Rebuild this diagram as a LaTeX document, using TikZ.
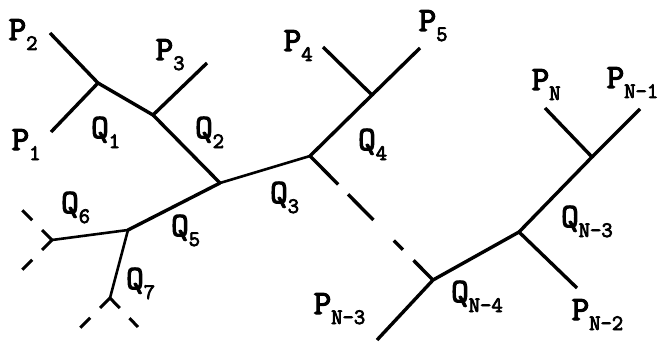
\documentclass[tikz,border=0pt]{standalone}
\usepackage{fontspec}
\setmonofont[AutoFakeBold=3.5]{Latin Modern Mono}
\newcommand{\lbl}[2]{\ttfamily\bfseries\fontsize{34}{34}\selectfont #1\raisebox{-10pt}{\fontsize{22}{22}\selectfont #2}}

\begin{document}
\begin{tikzpicture}[x=1pt,y=-1pt,
  edge/.style={line width=3.4pt},
  thinedge/.style={line width=2.6pt},
  stub/.style={line width=3pt,dash pattern=on 14pt off 14pt},
  lab/.style={anchor=base west,inner sep=0pt}]
\useasboundingbox (0,0) rectangle (660,342);
% junctions
\coordinate (A) at (98,83);
\coordinate (B) at (153,115);
\coordinate (C) at (220,183);
\coordinate (D) at (310,156);
\coordinate (E) at (372,95);
\coordinate (F) at (433,280);
\coordinate (G) at (519,232);
\coordinate (H) at (592,157);
\coordinate (I) at (128,230);
\coordinate (J) at (52,240);
\coordinate (K) at (110,298);
% leaves
\coordinate (p2) at (50,33);
\coordinate (p1) at (51,132);
\coordinate (p3) at (207,63);
\coordinate (p4) at (323,47);
\coordinate (p5) at (420,48);
\coordinate (pn3) at (377,340);
\coordinate (pn2) at (577,288);
\coordinate (pn) at (545,108);
\coordinate (pn1) at (640,109);
\coordinate (j1) at (22,210);
\coordinate (j2) at (22,270);
\coordinate (k1) at (80,328);
\coordinate (k2) at (138,327);
% tree
\draw[edge] (p2) -- (A) -- (p1);
\draw[edge] (A) -- (B) -- (p3);
\draw[edge] (B) -- (C);
\draw[thinedge] (C) -- (D);
\draw[edge] (D) -- (E) -- (p4);
\draw[edge] (E) -- (p5);
\draw[edge,dash pattern=on 40pt off 14pt on 36pt off 29pt on 13pt off 15pt on 30pt] (D) -- (F);
\draw[edge] (pn3) -- (F) -- (G) -- (pn2);
\draw[edge] (G) -- (H) -- (pn);
\draw[edge] (H) -- (pn1);
\draw[edge] (C) -- (I);
\draw[thinedge] (I) -- (J);
\draw[thinedge] (I) -- (K);
\draw[stub] (J) -- (j1);
\draw[stub] (J) -- (j2);
\draw[stub] (K) -- (k1);
\draw[stub] (K) -- (k2);
% labels
\node[lab] (P2) at (8.5,40) {\lbl{P}{2}};
\node[lab] (P1) at (11.5,150) {\lbl{P}{1}};
\node[lab] (P3) at (155.5,60) {\lbl{P}{3}};
\node[lab] (P4) at (283.5,51) {\lbl{P}{4}};
\node[lab] (P5) at (418.5,31) {\lbl{P}{5}};
\node[lab] (PN) at (531.5,90) {\lbl{P}{N}};
\node[lab] (PN1) at (606.5,88) {\lbl{P}{N\textendash1}};
\node[lab] (PN3) at (313.5,314) {\lbl{P}{N\textendash3}};
\node[lab] (PN2) at (571.5,320) {\lbl{P}{N\textendash2}};
\node[lab] (Q1) at (91,138) {\lbl{Q}{1}};
\node[lab] (Q2) at (195,138) {\lbl{Q}{2}};
\node[lab] (Q3) at (270,203) {\lbl{Q}{3}};
\node[lab] (Q4) at (358,150) {\lbl{Q}{4}};
\node[lab] (Q5) at (171,236) {\lbl{Q}{5}};
\node[lab] (Q6) at (61,213) {\lbl{Q}{6}};
\node[lab] (Q7) at (126,289) {\lbl{Q}{7}};
\node[lab] (QN4) at (451,302) {\lbl{Q}{N\textendash4}};
\node[lab] (QN3) at (561,227) {\lbl{Q}{N\textendash3}};
\end{tikzpicture}
\end{document}
